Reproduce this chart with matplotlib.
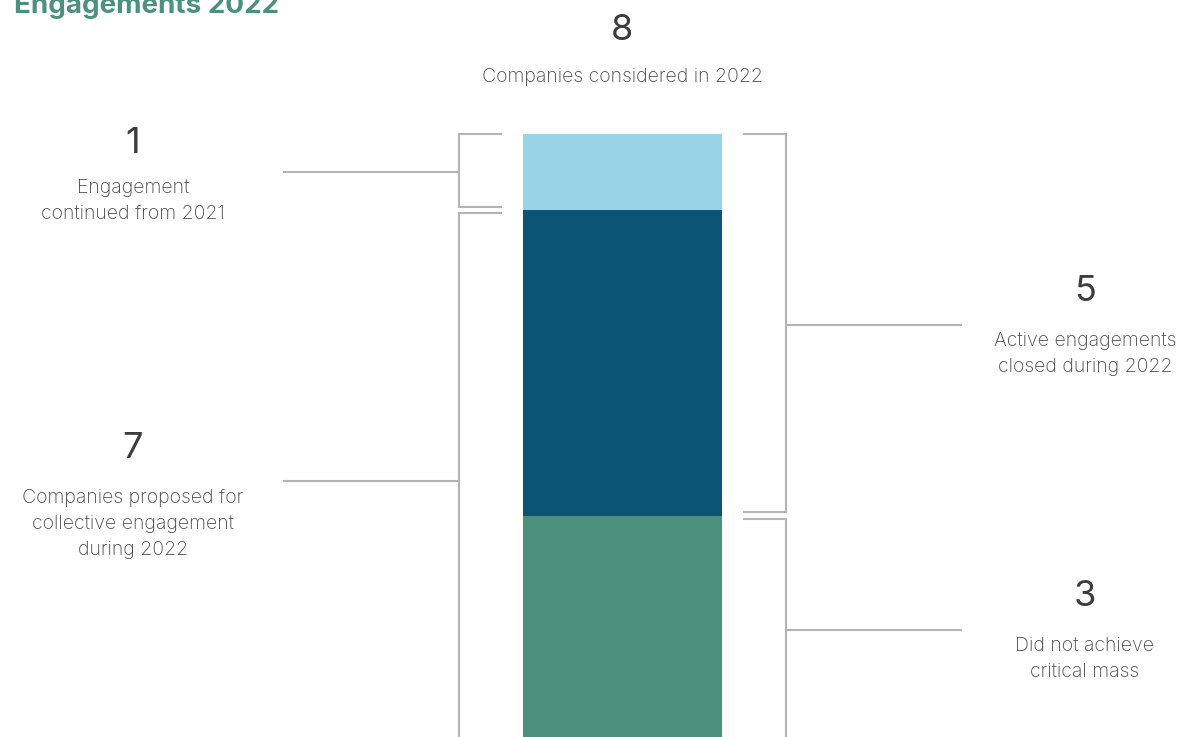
import matplotlib
matplotlib.use("Agg")
import matplotlib.pyplot as plt

# segments of the single stacked bar, bottom to top
segments = ["Did not achieve critical mass", "Active engagements", "Continued from 2021"]
values = [3, 4, 1]
colors = ["#4b917b", "#0b5475", "#98d4e5"]
total = sum(values)

# bracket groups: (label number, caption, side, start, end)
groups = [
    (1, "Engagement\ncontinued from 2021", "left", 7, 8),
    (7, "Companies proposed for\ncollective engagement\nduring 2022", "left", -0.1, 7),
    (5, "Active engagements\nclosed during 2022", "right", 3, 8),
    (3, "Did not achieve\ncritical mass", "right", 0, 3),
]
top_number = 8
top_caption = "Companies considered in 2022"
title = "Engagements 2022"

num_color = "#3d3d3d"
txt_color = "#4a4a4a"
line_color = "#b4b4b4"
font = "Inter"

fig = plt.figure(figsize=(11.95, 7.37), dpi=100)
ax = fig.add_axes([0, 0, 1, 1])
ax.set_xlim(0, 1195)
unit_px = 76.3
y_bottom = 0.097
ax.set_ylim(y_bottom, y_bottom + 737 / unit_px)
ax.axis("off")

# stacked bar
bar_x, bar_w = 622.5, 199
bottom = 0
for v, c in zip(values, colors):
    ax.bar(bar_x, v, width=bar_w, bottom=bottom, color=c, linewidth=0)
    bottom += v

gap = 0.04
lw = 1.5
for num, cap, side, y0, y1 in groups:
    lo = y0 + gap if y0 > 0 else y0
    hi = y1 - gap if y1 < total else y1
    if side == "left":
        xv, xe, xt, xtxt = 459, 502, 283, 133
    else:
        xv, xe, xt, xtxt = 786, 743, 962, 1085
    ax.plot([xe, xv, xv, xe], [hi, hi, lo, lo], color=line_color, lw=lw,
            solid_joinstyle="miter", solid_capstyle="butt")
    ymid = (y0 + y1) / 2
    ax.plot([xv, xt], [ymid, ymid], color=line_color, lw=lw, solid_capstyle="butt")
    nlines = cap.count("\n") + 1
    off_num = 29 if num == 1 else 33
    off_cap = {1: -29.5, 2: -29, 3: -43}[nlines]
    ax.annotate(str(num), (xtxt, ymid), xytext=(0, off_num), textcoords="offset pixels",
                ha="center", va="center", fontsize=26, color=num_color, family=font)
    ax.annotate(cap, (xtxt, ymid), xytext=(0, off_cap), textcoords="offset pixels",
                ha="center", va="center", fontsize=14, color=txt_color, family=font,
                fontweight="light", linespacing=1.55)

# total on top of the bar
ax.annotate(str(top_number), (bar_x, total), xytext=(0, 104), textcoords="offset pixels",
            ha="center", va="center", fontsize=26, color=num_color, family=font)
ax.annotate(top_caption, (bar_x, total), xytext=(0, 57), textcoords="offset pixels",
            ha="center", va="center", fontsize=14, color=txt_color, family=font,
            fontweight="light")

fig.text(14 / 1195, 1 - 13 / 737, title, ha="left", va="baseline", fontsize=20,
         fontweight="bold", color="#4b917b", family=font)

fig.savefig("out.png", dpi=100)
